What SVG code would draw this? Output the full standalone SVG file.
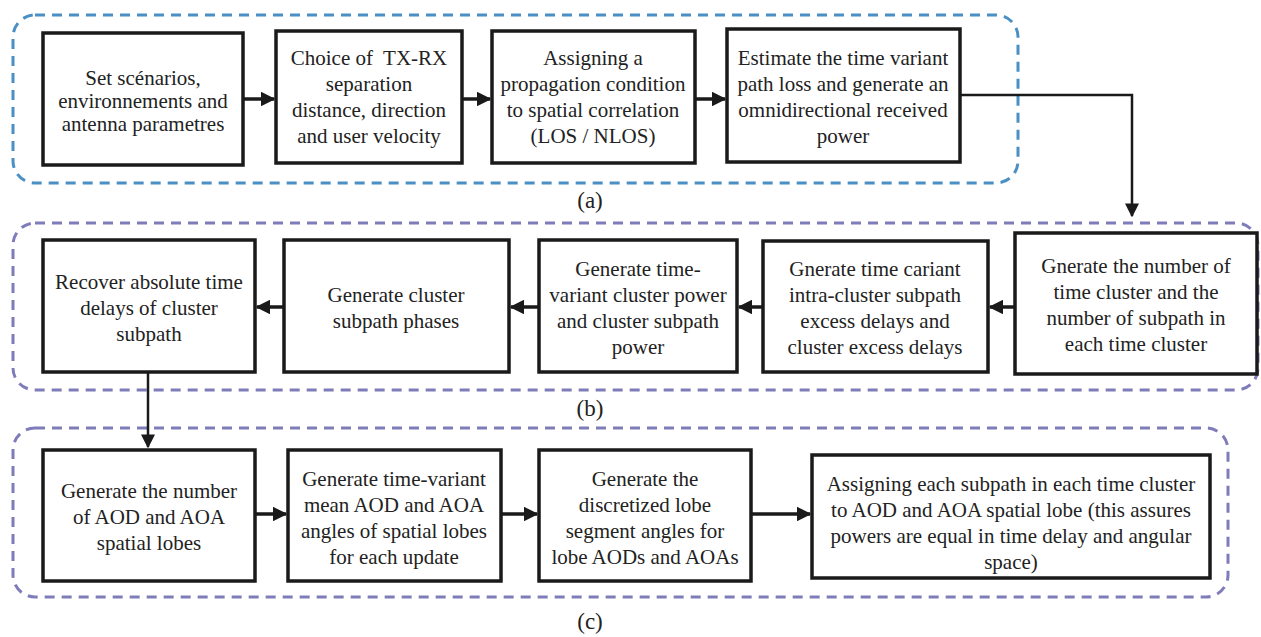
<svg xmlns="http://www.w3.org/2000/svg" width="1261" height="637" viewBox="0 0 1261 637">
<style>
.grpA{fill:none;stroke:#4a90c4;stroke-width:3;stroke-dasharray:10 7}
.grpB{fill:none;stroke:#7f7cba;stroke-width:3;stroke-dasharray:10 7}
.box{fill:#ffffff;stroke:#1a1a1a;stroke-width:3.5}
.t{font-family:'Liberation Serif','Tinos','Times New Roman',Times,serif;font-size:21px;fill:#222;text-anchor:middle;white-space:pre}
.lbl{font-family:'Liberation Serif','Tinos','Times New Roman',Times,serif;font-size:23px;fill:#222;text-anchor:middle}
.con{fill:none;stroke:#1a1a1a;stroke-width:3.5}
.con2{fill:none;stroke:#1a1a1a;stroke-width:2.5}
</style>
<defs>
<marker id="ah" viewBox="0 0 10 10" refX="9" refY="5" markerWidth="4.2" markerHeight="4.2" orient="auto" markerUnits="strokeWidth">
<path d="M0,0 L10,5 L0,10 z" fill="#1a1a1a"/>
</marker>
<marker id="ah2" viewBox="0 0 10 10" refX="9" refY="5" markerWidth="5.6" markerHeight="5.6" orient="auto" markerUnits="strokeWidth">
<path d="M0,0 L10,5 L0,10 z" fill="#1a1a1a"/>
</marker>
</defs>
<rect width="1261" height="637" fill="#ffffff"/>

<g id="groups">
<rect id="group-a" class="grpA" x="13" y="15" width="1005" height="168" rx="22"/>
<rect id="group-b" class="grpB" x="13" y="223" width="1245" height="167" rx="22"/>
<rect id="group-c" class="grpB" x="13" y="428" width="1215" height="169" rx="22"/>
</g>

<g id="connectors">
<line class="con" x1="243" y1="99" x2="274" y2="99" marker-end="url(#ah)"/>
<line class="con" x1="462" y1="99" x2="490" y2="99" marker-end="url(#ah)"/>
<line class="con" x1="695" y1="99" x2="725" y2="99" marker-end="url(#ah)"/>
<polyline class="con2" points="960,95 1132,95 1132,216" marker-end="url(#ah2)"/>
<line class="con" x1="1015" y1="307" x2="990" y2="307" marker-end="url(#ah)"/>
<line class="con" x1="763" y1="307" x2="739" y2="307" marker-end="url(#ah)"/>
<line class="con" x1="539" y1="307" x2="511" y2="307" marker-end="url(#ah)"/>
<line class="con" x1="284" y1="307" x2="257" y2="307" marker-end="url(#ah)"/>
<line class="con2" x1="148" y1="372" x2="148" y2="447" marker-end="url(#ah2)"/>
<line class="con" x1="255" y1="514" x2="286" y2="514" marker-end="url(#ah)"/>
<line class="con" x1="501" y1="514" x2="537" y2="514" marker-end="url(#ah)"/>
<line class="con" x1="751" y1="514" x2="810" y2="514" marker-end="url(#ah)"/>
</g>

<g id="a1"><rect class="box" x="43" y="33" width="200" height="132"/>
<text class="t"><tspan x="143" y="85">Set scénarios,</tspan><tspan x="143" y="108">environnements and</tspan><tspan x="143" y="131">antenna parametres</tspan></text></g>
<g id="a2"><rect class="box" x="276" y="31" width="186" height="132"/>
<text class="t"><tspan x="369" y="65">Choice of  TX-RX</tspan><tspan x="369" y="91">separation</tspan><tspan x="369" y="117">distance, direction</tspan><tspan x="369" y="143">and user velocity</tspan></text></g>
<g id="a3"><rect class="box" x="492" y="31" width="203" height="132"/>
<text class="t"><tspan x="593" y="65">Assigning a</tspan><tspan x="593" y="91">propagation condition</tspan><tspan x="593" y="117">to spatial correlation</tspan><tspan x="593" y="143">(LOS / NLOS)</tspan></text></g>
<g id="a4"><rect class="box" x="727" y="29" width="233" height="133"/>
<text class="t"><tspan x="843" y="65">Estimate the time variant</tspan><tspan x="843" y="91">path loss and generate an</tspan><tspan x="843" y="117">omnidirectional received</tspan><tspan x="843" y="143">power</tspan></text></g>
<text class="lbl" x="590" y="208">(a)</text>

<g id="b1"><rect class="box" x="43" y="240" width="212" height="132"/>
<text class="t"><tspan x="149" y="289">Recover absolute time</tspan><tspan x="149" y="315">delays of cluster</tspan><tspan x="149" y="341">subpath</tspan></text></g>
<g id="b2"><rect class="box" x="284" y="240" width="225" height="132"/>
<text class="t"><tspan x="396" y="302">Generate cluster</tspan><tspan x="396" y="328">subpath phases</tspan></text></g>
<g id="b3"><rect class="box" x="539" y="240" width="198" height="132"/>
<text class="t"><tspan x="638" y="276">Generate time-</tspan><tspan x="638" y="302">variant cluster power</tspan><tspan x="638" y="328">and cluster subpath</tspan><tspan x="638" y="354">power</tspan></text></g>
<g id="b4"><rect class="box" x="763" y="241" width="225" height="131"/>
<text class="t"><tspan x="875" y="276">Gnerate time cariant</tspan><tspan x="875" y="302">intra-cluster subpath</tspan><tspan x="875" y="328">excess delays and</tspan><tspan x="875" y="354">cluster excess delays</tspan></text></g>
<g id="b5"><rect class="box" x="1015" y="233" width="242" height="141"/>
<text class="t"><tspan x="1136" y="273">Gnerate the number of</tspan><tspan x="1136" y="299">time cluster and the</tspan><tspan x="1136" y="325">number of subpath in</tspan><tspan x="1136" y="351">each time cluster</tspan></text></g>
<text class="lbl" x="590" y="416">(b)</text>

<g id="c1"><rect class="box" x="43" y="450" width="212" height="131"/>
<text class="t"><tspan x="149" y="498">Generate the number</tspan><tspan x="149" y="524">of AOD and AOA</tspan><tspan x="149" y="550">spatial lobes</tspan></text></g>
<g id="c2"><rect class="box" x="288" y="450" width="213" height="131"/>
<text class="t"><tspan x="394" y="486">Generate time-variant</tspan><tspan x="394" y="512">mean AOD and AOA</tspan><tspan x="394" y="538">angles of spatial lobes</tspan><tspan x="394" y="564">for each update</tspan></text></g>
<g id="c3"><rect class="box" x="539" y="450" width="212" height="131"/>
<text class="t"><tspan x="645" y="486">Generate the</tspan><tspan x="645" y="512">discretized lobe</tspan><tspan x="645" y="538">segment angles for</tspan><tspan x="645" y="564">lobe AODs and AOAs</tspan></text></g>
<g id="c4"><rect class="box" x="812" y="455" width="398" height="123"/>
<text class="t"><tspan x="1011" y="491">Assigning each subpath in each time cluster</tspan><tspan x="1011" y="517">to AOD and AOA spatial lobe (this assures</tspan><tspan x="1011" y="543">powers are equal in time delay and angular</tspan><tspan x="1011" y="569">space)</tspan></text></g>
<text class="lbl" x="590" y="629">(c)</text>
</svg>
